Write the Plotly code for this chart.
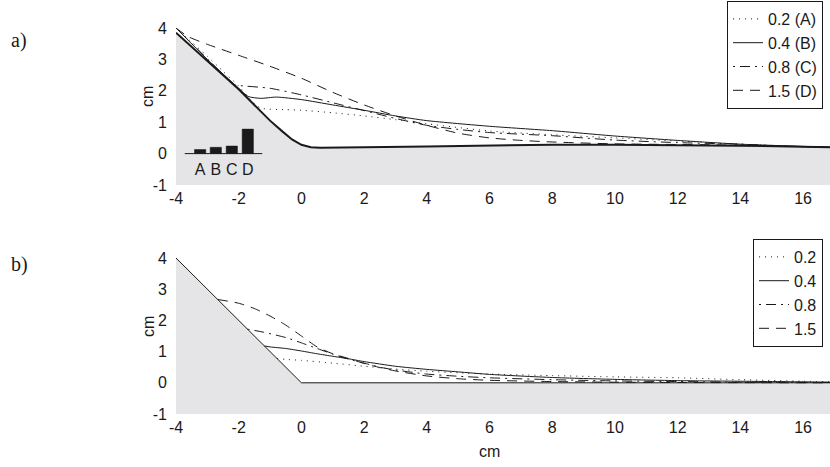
import plotly.graph_objects as go

# ---------------- data ----------------
# panel a: bed profile
bed_a_x = [-4, -3, -2, -1.5, -1, -0.6, -0.3, 0, 0.3, 0.6, 1, 2, 4, 6, 8, 10, 12, 14, 16, 17]
bed_a_y = [3.85, 2.95, 2.05, 1.55, 1.05, 0.7, 0.45, 0.28, 0.2, 0.19, 0.19, 0.2, 0.23, 0.26, 0.28, 0.28, 0.27, 0.25, 0.22, 0.2]

a_A_x = [-4, -3.5, -3, -2.5, -2, -1.6, -1.3, -0.5, 0, 1, 2, 3, 4, 6, 8, 10, 12, 14, 16, 17]
a_A_y = [4, 3.55, 3.1, 2.62, 2.15, 1.7, 1.45, 1.4, 1.38, 1.3, 1.2, 1.08, 0.95, 0.72, 0.6, 0.5, 0.4, 0.3, 0.22, 0.2]
a_B_x = [-4, -3, -2, -1.7, -1.3, -0.8, 0, 1, 2, 3, 4, 6, 8, 10, 12, 14, 16, 17]
a_B_y = [4, 3.0, 2.08, 1.82, 1.76, 1.8, 1.72, 1.55, 1.38, 1.2, 1.05, 0.87, 0.73, 0.56, 0.42, 0.3, 0.23, 0.2]
a_C_x = [-4, -3, -2.15, -2, -1, 0, 1, 2, 3, 4, 5, 6, 8, 10, 12, 14, 16, 17]
a_C_y = [4, 3.02, 2.2, 2.17, 2.08, 1.87, 1.62, 1.37, 1.12, 0.9, 0.77, 0.67, 0.57, 0.43, 0.35, 0.3, 0.22, 0.2]
a_D_x = [-4, -3.6, -3, -2, -1, 0, 1, 2, 3, 4, 5, 6, 7, 8, 10, 12, 14, 16, 17]
a_D_y = [4, 3.72, 3.48, 3.13, 2.78, 2.4, 1.95, 1.55, 1.2, 0.9, 0.65, 0.5, 0.42, 0.37, 0.31, 0.29, 0.27, 0.22, 0.2]

# inset bar chart (panel a)
bar_labels = ["A", "B", "C", "D"]
bar_x = [-3.23, -2.73, -2.22, -1.71]
bar_heights = [0.13, 0.2, 0.24, 0.78]
bar_base_x = [-3.72, -1.25]
bar_base_y = [0, 0]
bar_label_y = -0.55

# panel b: bed profile
bed_b_x = [-4, 0, 17]
bed_b_y = [4, 0, 0]

b_A_x = [-0.78, -0.5, 0, 1, 2, 3, 4, 5, 6, 8, 10, 12, 14, 16, 17]
b_A_y = [0.78, 0.75, 0.72, 0.63, 0.53, 0.44, 0.37, 0.32, 0.28, 0.23, 0.19, 0.16, 0.1, 0.05, 0.03]
b_B_x = [-1.18, -1, -0.5, 0, 0.5, 1, 1.5, 2, 3, 4, 5, 6, 8, 10, 12, 14, 16, 17]
b_B_y = [1.18, 1.15, 1.1, 1.02, 0.93, 0.85, 0.77, 0.68, 0.53, 0.43, 0.35, 0.27, 0.17, 0.11, 0.07, 0.05, 0.03, 0.02]
b_C_x = [-1.72, -1.2, -0.5, 0, 0.5, 1, 1.5, 2, 2.5, 3, 4, 5, 6, 8, 10, 12, 14, 17]
b_C_y = [1.72, 1.62, 1.45, 1.28, 1.1, 0.92, 0.76, 0.63, 0.5, 0.41, 0.28, 0.21, 0.16, 0.1, 0.06, 0.04, 0.02, 0.01]
b_D_x = [-2.67, -2, -1.5, -1, -0.5, 0, 0.5, 1, 1.5, 2, 2.5, 3, 4, 5, 6, 8, 10, 12, 17]
b_D_y = [2.67, 2.55, 2.38, 2.14, 1.85, 1.5, 1.15, 0.93, 0.78, 0.62, 0.49, 0.38, 0.22, 0.13, 0.08, 0.04, 0.02, 0.01, 0]

names_a = ["0.2 (A)", "0.4 (B)", "0.8 (C)", "1.5 (D)"]
names_b = ["0.2", "0.4", "0.8", "1.5"]

x_ticks = [-4, -2, 0, 2, 4, 6, 8, 10, 12, 14, 16]
x_tick_text = ["-4", "-2", "0", "2", "4", "6", "8", "10", "12", "14", "16"]
y_ticks = [-1, 0, 1, 2, 3, 4]
y_tick_text = ["-1", "0", "1", "2", "3", "4"]
X_RANGE = [-4, 16.86]
Y_RANGE = [-1, 4]

# ---------------- styles ----------------
FILL = "#e5e5e7"
INK = "#1a1a1a"
dashes = ["1px,5px", "solid", "2px,5px,10px,5px", "10px,7px"]
FONT = "Liberation Sans, Arial, sans-serif"
BAR_W = 0.36

fig = go.Figure()

def bed_polygon(xs, ys):
    px = list(xs) + [xs[-1], xs[0]]
    py = list(ys) + [Y_RANGE[0], Y_RANGE[0]]
    return px, py

# panel a
px, py = bed_polygon(bed_a_x, bed_a_y)
fig.add_trace(go.Scatter(x=px, y=py, fill="toself", fillcolor=FILL, mode="none",
                         showlegend=False, hoverinfo="skip", xaxis="x", yaxis="y"))
fig.add_trace(go.Scatter(x=bed_a_x, y=bed_a_y, mode="lines", line=dict(color=INK, width=2),
                         showlegend=False, xaxis="x", yaxis="y"))
for xs, ys, nm, d in zip([a_A_x, a_B_x, a_C_x, a_D_x], [a_A_y, a_B_y, a_C_y, a_D_y], names_a, dashes):
    fig.add_trace(go.Scatter(x=xs, y=ys, mode="lines", name=nm,
                             line=dict(color=INK, width=1, dash=d, shape="spline", smoothing=0.6),
                             legend="legend", xaxis="x", yaxis="y"))

# inset bars drawn as filled outlines (so they sit above the grey fill)
bx, by = [], []
for cx, h in zip(bar_x, bar_heights):
    bx += [cx - BAR_W / 2, cx - BAR_W / 2, cx + BAR_W / 2, cx + BAR_W / 2, cx - BAR_W / 2, None]
    by += [0, h, h, 0, 0, None]
fig.add_trace(go.Scatter(x=bx, y=by, mode="lines", fill="toself", fillcolor=INK,
                         line=dict(color=INK, width=0.5), showlegend=False, xaxis="x", yaxis="y"))
fig.add_trace(go.Scatter(x=bar_base_x, y=bar_base_y, mode="lines", line=dict(color=INK, width=1),
                         showlegend=False, xaxis="x", yaxis="y"))
fig.add_trace(go.Scatter(x=bar_x, y=[bar_label_y] * len(bar_x), mode="text", text=bar_labels,
                         textfont=dict(family=FONT, size=16, color=INK),
                         showlegend=False, xaxis="x", yaxis="y"))

# panel b
px, py = bed_polygon(bed_b_x, bed_b_y)
fig.add_trace(go.Scatter(x=px, y=py, fill="toself", fillcolor=FILL, mode="none",
                         showlegend=False, hoverinfo="skip", xaxis="x2", yaxis="y2"))
fig.add_trace(go.Scatter(x=bed_b_x, y=bed_b_y, mode="lines", line=dict(color=INK, width=1),
                         showlegend=False, xaxis="x2", yaxis="y2"))
for xs, ys, nm, d in zip([b_A_x, b_B_x, b_C_x, b_D_x], [b_A_y, b_B_y, b_C_y, b_D_y], names_b, dashes):
    fig.add_trace(go.Scatter(x=xs, y=ys, mode="lines", name=nm,
                             line=dict(color=INK, width=1, dash=d, shape="spline", smoothing=0.6),
                             legend="legend2", xaxis="x2", yaxis="y2"))

W, H = 830, 467
L, R, T, B = 176, 0, 28, 53
ph = H - T - B
pw = W - L - R
dom_a = [(H - B - 185) / ph, 1]
dom_b = [0, (H - B - 258) / ph]

def px_x(p):
    return (p - L) / pw

def px_y(p):
    return (H - B - p) / ph

axis_common = dict(showgrid=False, zeroline=False, showline=False, ticks="",
                   tickfont=dict(family=FONT, size=16, color=INK))
fig.update_layout(
    width=W, height=H,
    margin=dict(l=L, r=R, t=T, b=B),
    paper_bgcolor="white", plot_bgcolor="white",
    xaxis=dict(domain=[0, 1], anchor="y", range=X_RANGE, tickvals=x_ticks, ticktext=x_tick_text,
               ticklabelstandoff=2, **axis_common),
    yaxis=dict(domain=dom_a, anchor="x", range=Y_RANGE, tickvals=y_ticks, ticktext=y_tick_text,
               ticklabelstandoff=8, **axis_common),
    xaxis2=dict(domain=[0, 1], anchor="y2", range=X_RANGE, tickvals=x_ticks, ticktext=x_tick_text,
                ticklabelstandoff=2, **axis_common),
    yaxis2=dict(domain=dom_b, anchor="x2", range=Y_RANGE, tickvals=y_ticks, ticktext=y_tick_text,
                ticklabelstandoff=8, **axis_common),
    legend=dict(x=px_x(823), y=px_y(1), xanchor="right", yanchor="top",
                bgcolor="white", bordercolor=INK, borderwidth=1,
                font=dict(family=FONT, size=16, color=INK), tracegroupgap=0),
    legend2=dict(x=px_x(823), y=px_y(239), xanchor="right", yanchor="top",
                 bgcolor="white", bordercolor=INK, borderwidth=1,
                 font=dict(family=FONT, size=16, color=INK), tracegroupgap=0),
    annotations=[
        dict(text="a)", xref="paper", yref="paper", x=px_x(19), y=px_y(40), xanchor="center", yanchor="middle",
             showarrow=False, font=dict(family="Liberation Serif, DejaVu Serif, serif", size=20, color=INK)),
        dict(text="b)", xref="paper", yref="paper", x=px_x(19), y=px_y(264), xanchor="center", yanchor="middle",
             showarrow=False, font=dict(family="Liberation Serif, DejaVu Serif, serif", size=20, color=INK)),
        dict(text="cm", xref="paper", yref="paper", x=px_x(148), y=px_y(97), xanchor="center", yanchor="middle",
             textangle=-90, showarrow=False, font=dict(family=FONT, size=16, color=INK)),
        dict(text="cm", xref="paper", yref="paper", x=px_x(148), y=px_y(327), xanchor="center", yanchor="middle",
             textangle=-90, showarrow=False, font=dict(family=FONT, size=16, color=INK)),
        dict(text="cm", xref="paper", yref="paper", x=px_x(489), y=px_y(452), xanchor="center", yanchor="middle",
             showarrow=False, font=dict(family=FONT, size=16, color=INK)),
    ],
)

fig.write_html("out.html")
